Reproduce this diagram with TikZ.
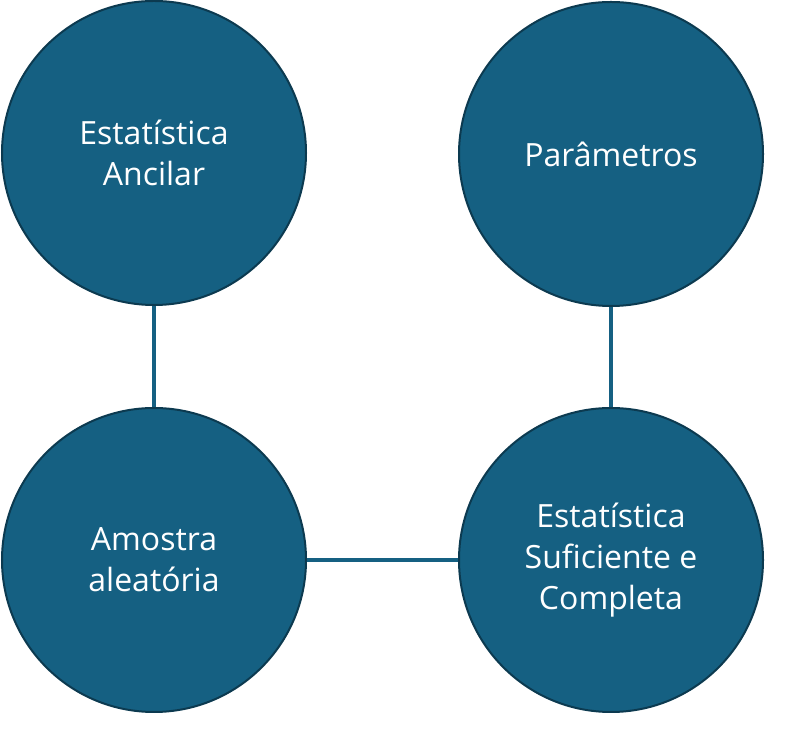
\documentclass[tikz,border=0pt]{standalone}
\usepackage{fontspec}
\setmainfont{Open Sans}
\usepackage{tikz}
\usetikzlibrary{positioning}
\definecolor{tealfill}{HTML}{156082}
\definecolor{tealedge}{HTML}{0C3A50}
\tikzstyle{conn} = [draw=tealfill, line width=4pt]
\tikzstyle{bubble} = [circle, draw=tealedge, line width=2pt, fill=tealfill,
  text=white, align=center, minimum size=304pt, inner sep=0pt,
  font={\fontsize{32}{41}\selectfont}]

\begin{document}
\begin{tikzpicture}[
    x=1pt, y=1pt
  ]
    \useasboundingbox (0,0) rectangle (789,738);
    \node [bubble] at (154,585) (ancilar)
      {Estatística\\
        Ancilar};
    \node [bubble] at (611,584) (param)
      {Parâmetros};
    \node [bubble] at (154,178) (amostra)
      {Amostra\\
        aleatória};
    \node [bubble] at (611,178) (sufcomp)
      {Estatística\\
        Suficiente e\\
        Completa};
    \path [conn] (ancilar) -- (amostra);
    \path [conn] (param) -- (sufcomp);
    \path [conn] (amostra) -- (sufcomp);
  \end{tikzpicture}
\end{document}
